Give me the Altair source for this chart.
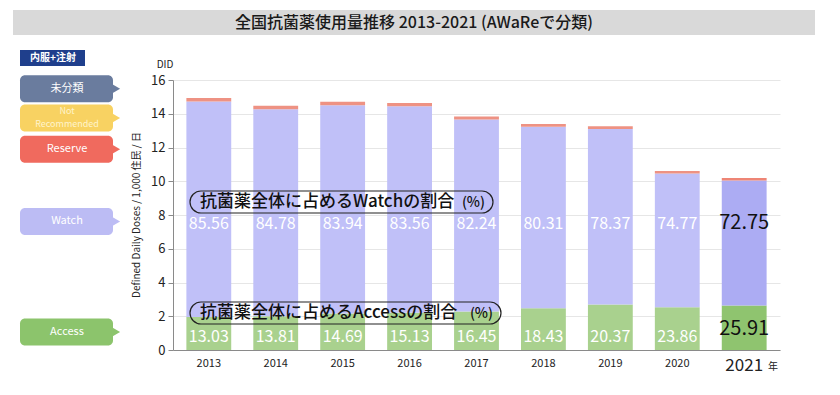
import altair as alt
import pandas as pd

# ---------------- data ----------------
years = ["2013", "2014", "2015", "2016", "2017", "2018", "2019", "2020", "2021"]
access = [1.95, 2.00, 2.16, 2.21, 2.28, 2.47, 2.70, 2.53, 2.64]
watch = [12.77, 12.27, 12.35, 12.23, 11.38, 10.76, 10.39, 7.93, 7.41]
reserve = [0.21, 0.20, 0.20, 0.19, 0.18, 0.17, 0.17, 0.15, 0.14]
watch_pct = ["85.56", "84.78", "83.94", "83.56", "82.24", "80.31", "78.37", "74.77", "72.75"]
access_pct = ["13.03", "13.81", "14.69", "15.13", "16.45", "18.43", "20.37", "23.86", "25.91"]
legend_labels = ["未分類", "Not Recommended", "Reserve", "Watch", "Access"]
legend_levels = [15.48, 13.75, 11.9, 7.62, 1.07]
y_ticks = [0, 2, 4, 6, 8, 10, 12, 14, 16]

title_text = "全国抗菌薬使用量推移 2013-2021 (AWaReで分類)"
y_title = "Defined Daily Doses / 1,000 住民 / 日"

# ---------------- styles ----------------
FONT = "Noto Sans CJK JP"
bar_colors = {"Access": "#A9D18E", "Watch": "#C0C0F8", "Reserve": "#EE9283"}
bar_colors_hl = {"Access": "#8FC46F", "Watch": "#ACACF3", "Reserve": "#EE8575"}
legend_colors = ["#6A7C9E", "#F8D262", "#F06A5E", "#BCBCF4", "#8CC46C"]
legend_text_colors = ["#FFFFFF", "#FFF4CC", "#FFFFFF", "#FFFFFF", "#FFFFFF"]

rows = []
for i, y in enumerate(years):
    for order, (cat, vals) in enumerate([("Access", access), ("Watch", watch), ("Reserve", reserve)]):
        pal = bar_colors_hl if y == "2021" else bar_colors
        rows.append({"year": y, "cat": cat, "value": vals[i], "ord": order, "color": pal[cat]})
df = pd.DataFrame(rows)

lab = pd.DataFrame({
    "year": years,
    "wpct": watch_pct,
    "apct": access_pct,
    "wy": [7.47 if y != "2021" else 7.5 for y in years],
    "ay": [0.77 if y != "2021" else 1.25 for y in years],
    "fs": [16 if y != "2021" else 20 for y in years],
    "tc": ["#FFFFFF" if y != "2021" else "#111111" for y in years],
})

leg = pd.DataFrame({
    "label": legend_labels,
    "ly": legend_levels,
    "color": legend_colors,
    "tcol": legend_text_colors,
})
leg["top"] = leg["ly"] + 0.8
leg["bot"] = leg["ly"] - 0.8
leg["line1"] = [l.split(" ")[0] if " " in l else l for l in leg["label"]]
leg["line2"] = [l.split(" ")[1] if " " in l else "" for l in leg["label"]]
leg_single = leg[leg["line2"] == ""]
leg_double = leg[leg["line2"] != ""]

one = pd.DataFrame({"a": [0]})

X = alt.X("year:N", title=None,
          scale=alt.Scale(paddingInner=0.33, paddingOuter=0.2),
          axis=alt.Axis(labelAngle=0, ticks=False, domainColor="#8A8A8A",
                        labelColor="#222222", labelPadding=7,
                        labelFontSize={"condition": {"test": "datum.value == '2021'", "value": 17}, "value": 11}))

YAX = alt.Axis(values=y_ticks, labelFontSize=13, labelColor="#222222",
               tickColor="#8A8A8A", domainColor="#8A8A8A", tickSize=5,
               gridColor="#E6E6E6", labelPadding=3, labelOverlap=False)
YSC = alt.Scale(domain=[0, 16])


def Yf(field, **kw):
    return alt.Y(field, title=None, scale=YSC, axis=YAX, **kw)


bars = alt.Chart(df).mark_bar().encode(
    x=X,
    y=Yf("value:Q", stack="zero"),
    color=alt.Color("color:N", scale=None),
    order=alt.Order("ord:Q"),
)

wlab = alt.Chart(lab).mark_text(font=FONT, baseline="middle").encode(
    x=X,
    y=Yf("wy:Q", stack=None),
    text="wpct:N",
    size=alt.Size("fs:Q", scale=None),
    color=alt.Color("tc:N", scale=None),
)
alab = alt.Chart(lab).mark_text(font=FONT, baseline="middle").encode(
    x=X,
    y=Yf("ay:Q", stack=None),
    text="apct:N",
    size=alt.Size("fs:Q", scale=None),
    color=alt.Color("tc:N", scale=None),
)


# pills (outline only, bars show through)
def pill(top, bottom, right, text):
    base = alt.Chart(one)
    r = base.mark_rect(cornerRadius=11, fillOpacity=0, stroke="#222222",
                       strokeWidth=1.2).encode(
        x=alt.value(17), x2=alt.value(right), y=alt.value(top), y2=alt.value(bottom))
    t1 = base.mark_text(font=FONT, fontSize=17, fontWeight=500, align="left", baseline="middle",
                        color="#111111").encode(
        x=alt.value(27), y=alt.value((top + bottom) / 2), text=alt.value(text))
    t2 = base.mark_text(font=FONT, fontSize=14, fontWeight=500, align="right", baseline="middle",
                        color="#111111").encode(
        x=alt.value(right - 8), y=alt.value((top + bottom) / 2 + 1), text=alt.value("(%)"))
    return r + t1 + t2


pill_w = pill(111, 133, 320, "抗菌薬全体に占めるWatchの割合")
pill_a = pill(222, 244, 328, "抗菌薬全体に占めるAccessの割合")

# left legend
leg_box = alt.Chart(leg).mark_rect(cornerRadius=5).encode(
    x=alt.value(-153), x2=alt.value(-60),
    y=Yf("top:Q"), y2="bot:Q",
    color=alt.Color("color:N", scale=None),
)
leg_tri = alt.Chart(leg).mark_point(shape="triangle-right", filled=True, size=90, opacity=1).encode(
    x=alt.value(-57), y=Yf("ly:Q"),
    color=alt.Color("color:N", scale=None),
)
leg_txt = alt.Chart(leg_single).mark_text(font=FONT, fontSize=11, baseline="middle").encode(
    x=alt.value(-106), y=Yf("ly:Q"),
    text="line1:N",
    color=alt.Color("tcol:N", scale=None),
)
leg_txt1 = alt.Chart(leg_double).mark_text(font=FONT, fontSize=9, baseline="middle", dy=-6.5).encode(
    x=alt.value(-106), y=Yf("ly:Q"),
    text="line1:N",
    color=alt.Color("tcol:N", scale=None),
)
leg_txt2 = alt.Chart(leg_double).mark_text(font=FONT, fontSize=9, baseline="middle", dy=6.5).encode(
    x=alt.value(-106), y=Yf("ly:Q"),
    text="line2:N",
    color=alt.Color("tcol:N", scale=None),
)

base1 = alt.Chart(one)
naifuku_box = base1.mark_rect(color="#1F3F8C").encode(
    x=alt.value(-153), x2=alt.value(-88), y=alt.value(-30), y2=alt.value(-14))
naifuku_txt = base1.mark_text(font=FONT, fontSize=10, fontWeight="bold", color="white").encode(
    x=alt.value(-120), y=alt.value(-22), text=alt.value("内服+注射"))

title_box = base1.mark_rect(color="#D9D9D9").encode(
    x=alt.value(-160), x2=alt.value(642), y=alt.value(-70), y2=alt.value(-45))
title_txt = base1.mark_text(font=FONT, fontSize=16, fontWeight=500, color="#1A1A1A", baseline="middle").encode(
    x=alt.value(241), y=alt.value(-57), text=alt.value(title_text))

did_txt = base1.mark_text(font=FONT, fontSize=10, color="#222222").encode(
    x=alt.value(-8), y=alt.value(-15), text=alt.value("DID"))
ytitle_txt = base1.mark_text(font=FONT, fontSize=10, color="#222222", angle=270, baseline="middle").encode(
    x=alt.value(-36), y=alt.value(135), text=alt.value(y_title))
nen_txt = base1.mark_text(font=FONT, fontSize=10, color="#222222", baseline="middle").encode(
    x=alt.value(600), y=alt.value(17 + 270), text=alt.value("年"))

chart = alt.layer(
    bars, wlab, alab, pill_w, pill_a,
    leg_box, leg_tri, leg_txt, leg_txt1, leg_txt2, naifuku_box, naifuku_txt,
    title_box, title_txt, did_txt, ytitle_txt, nen_txt,
).properties(
    width=607, height=270,
    autosize=alt.AutoSizeParams(type="none"),
    padding={"left": 165, "top": 72, "right": 52, "bottom": 37},
).configure(
    font=FONT,
).configure_view(stroke=None)

chart.save("out.html", embed_options={"renderer": "svg", "actions": False})
